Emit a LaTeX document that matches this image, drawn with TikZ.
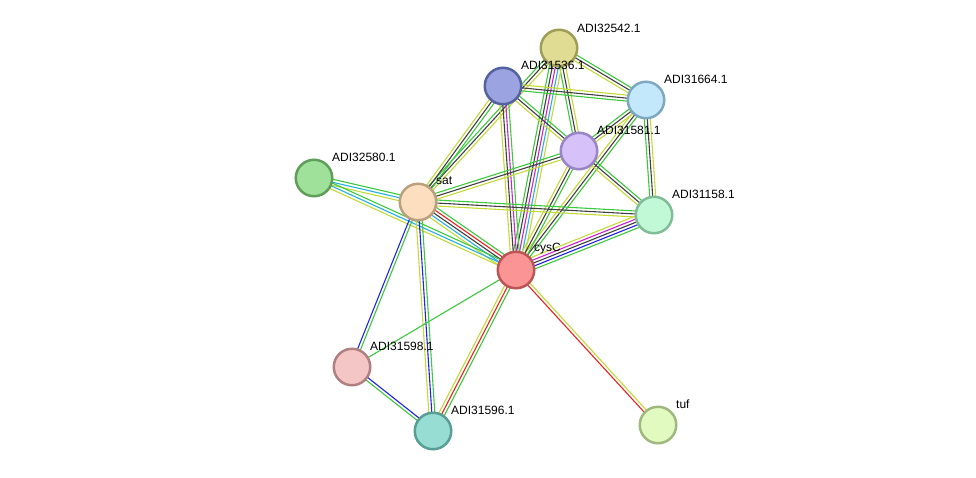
\documentclass[tikz,border=0pt]{standalone}
\usepackage{fontspec}
\setmainfont{Liberation Sans}
\usetikzlibrary{calc,backgrounds}
\definecolor{eg}{HTML}{3CC83C}
\definecolor{ey}{HTML}{C4D838}
\definecolor{ek}{HTML}{404040}
\definecolor{em}{HTML}{D020D0}
\definecolor{ec}{HTML}{22B0E0}
\definecolor{eb}{HTML}{2020F0}
\definecolor{er}{HTML}{F02020}
\tikzset{
  prot/.style={circle,minimum size=36.5pt,inner sep=0pt,line width=2.5pt},
  lab/.style={anchor=west,inner sep=0pt,font=\fontsize{12}{14}\selectfont},
  eline/.style={line width=1.1pt}
}
\newcommand\bundle[4]{%
  \foreach \cc [count=\ii] in {#4}{%
    \pgfmathsetmacro\off{(\ii-(#3+1)/2)*3.0}%
    \draw[eline,\cc] ($(#1)!\off pt!90:(#2)$) -- ($(#2)!\off pt!-90:(#1)$);
  }%
}
\begin{document}
\begin{tikzpicture}[x=1pt,y=-1pt]
\useasboundingbox (0,0) rectangle (976,477);
% nodes
\node[prot,fill={rgb,255:red,224;green,220;blue,148},draw={rgb,255:red,160;green,157;blue,88}] (n32542) at (559,48) {};
\node[prot,fill={rgb,255:red,155;green,163;blue,224},draw={rgb,255:red,85;green,98;blue,160}] (n31536) at (503,86) {};
\node[prot,fill={rgb,255:red,195;green,232;blue,251},draw={rgb,255:red,126;green,168;blue,192}] (n31664) at (646,100) {};
\node[prot,fill={rgb,255:red,214;green,194;blue,248},draw={rgb,255:red,154;green,132;blue,200}] (n31581) at (579,151) {};
\node[prot,fill={rgb,255:red,159;green,224;blue,154},draw={rgb,255:red,94;green,158;blue,88}] (n32580) at (314,178) {};
\node[prot,fill={rgb,255:red,253;green,223;blue,192},draw={rgb,255:red,187;green,160;blue,128}] (sat) at (418,202) {};
\node[prot,fill={rgb,255:red,193;green,248;blue,214},draw={rgb,255:red,128;green,188;blue,152}] (n31158) at (654,215) {};
\node[prot,fill={rgb,255:red,251;green,149;blue,149},draw={rgb,255:red,188;green,85;blue,85}] (cysC) at (516,270) {};
\node[prot,fill={rgb,255:red,245;green,198;blue,198},draw={rgb,255:red,176;green,128;blue,128}] (n31598) at (352,367) {};
\node[prot,fill={rgb,255:red,152;green,221;blue,211},draw={rgb,255:red,88;green,158;blue,148}] (n31596) at (433,431) {};
\node[prot,fill={rgb,255:red,224;green,250;blue,192},draw={rgb,255:red,160;green,184;blue,128}] (tuf) at (658,425) {};
% labels
\node[lab] (l32542) at (577,28) {ADI32542.1};
\node[lab] (l31536) at (521,65) {ADI31536.1};
\node[lab] (l31664) at (664,79) {ADI31664.1};
\node[lab] (l31581) at (597,130) {ADI31581.1};
\node[lab] (l32580) at (332,157) {ADI32580.1};
\node[lab] (lsat) at (436,181) {sat};
\node[lab] (l31158) at (672,194) {ADI31158.1};
\node[lab] (lcysC) at (534,249) {cysC};
\node[lab] (l31598) at (370,346) {ADI31598.1};
\node[lab] (l31596) at (451,410) {ADI31596.1};
\node[lab] (ltuf) at (676,404) {tuf};
% edges
\begin{scope}[on background layer]
\bundle{n32542}{n31664}{3}{ey,ek,eg}
\bundle{n32542}{n31581}{3}{eg,ek,ey}
\bundle{n32542}{cysC}{5}{eg,ek,em,ec,ey}
\bundle{n32542}{sat}{3}{eg,ek,ey}
\bundle{n31536}{n31664}{3}{eg,ek,ey}
\bundle{n31536}{n31581}{3}{ey,ek,eg}
\bundle{n31536}{cysC}{4}{ey,ek,em,eg}
\bundle{n31536}{sat}{3}{ey,ek,eg}
\bundle{n31664}{n31581}{3}{eg,ek,ey}
\bundle{n31664}{n31158}{3}{eg,ek,ey}
\bundle{n31664}{cysC}{3}{ey,ek,eg}
\bundle{n31581}{n31158}{3}{ey,ek,eg}
\bundle{n31581}{cysC}{3}{ey,ek,eg}
\bundle{n31581}{sat}{3}{eg,ek,ey}
\bundle{sat}{n31158}{3}{ey,ek,eg}
\bundle{sat}{cysC}{5}{ey,ec,ek,er,eg}
\bundle{n32580}{sat}{3}{ey,ec,eg}
\bundle{n32580}{cysC}{3}{ey,ec,eg}
\bundle{sat}{n31598}{2}{eb,eg}
\bundle{sat}{n31596}{3}{ey,eb,eg}
\bundle{cysC}{n31158}{5}{eg,eb,ek,em,ey}
\bundle{cysC}{n31598}{1}{eg}
\bundle{cysC}{n31596}{3}{ey,er,eg}
\bundle{cysC}{tuf}{2}{er,ey}
\bundle{n31598}{n31596}{2}{eg,eb}
\end{scope}
\end{tikzpicture}
\end{document}
